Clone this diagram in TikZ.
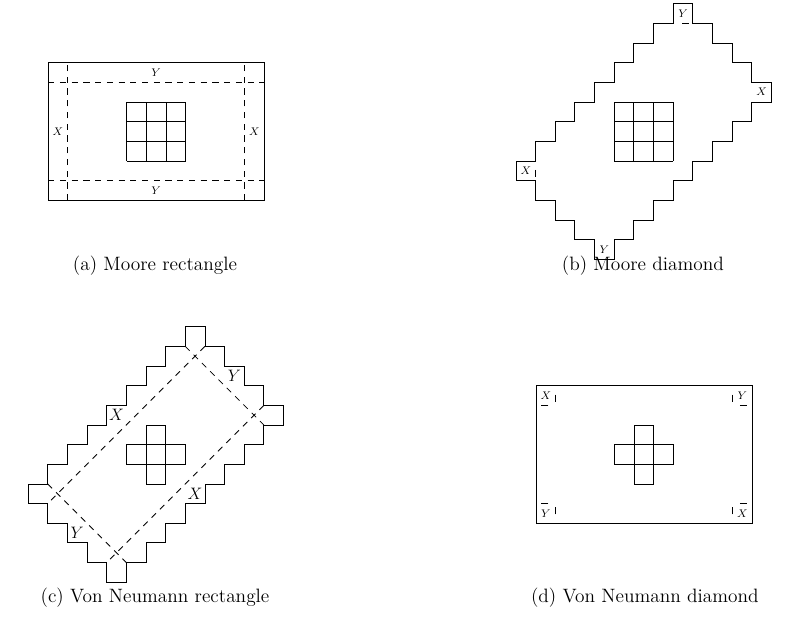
\documentclass[tikz,border=0pt]{standalone}
\tikzset{
  guide/.style={dash pattern=on 4.5pt off 4pt},
  openside/.style={dash pattern=on 5pt off 8pt, dash phase=6.5pt},
  smalllbl/.style={inner sep=0pt, font=\fontsize{8}{9}\selectfont},
  biglbl/.style={inner sep=0pt, font=\fontsize{12}{14}\selectfont},
  subcap/.style={inner sep=0pt, font=\fontsize{14}{16}\selectfont},
}
\begin{document}
\begin{tikzpicture}[x=0.5cm, y=0.5cm, line width=0.6pt]
  \useasboundingbox (0,0) rectangle (40.36,-31.76);
  % Moore rectangle
  \begin{scope}[shift={(6.448,-8.193)}]
    \draw (-4,-2) rectangle (7,5);
    \draw[step=0.5cm] (0,0) grid (3,3);
    \draw[guide] (-3,-2) -- (-3,5);
    \draw[guide] (6,-2) -- (6,5);
    \draw[guide] (-4,4) -- (7,4);
    \draw[guide] (-4,-1) -- (7,-1);
    \node[smalllbl] (aYtop) at (1.5,4.5) {$Y$};
    \node[smalllbl] (aYbot) at (1.5,-1.5) {$Y$};
    \node[smalllbl] (aXleft) at (-3.5,1.5) {$X$};
    \node[smalllbl] (aXright) at (6.5,1.5) {$X$};
  \end{scope}
  \node[subcap] (capA) at (7.89,-13.54) {(a) Moore rectangle};
  % Moore diamond
  \begin{scope}[shift={(31.26,-8.193)}]
    \draw (3,8) -- (4,8) -- (4,7) -- (5,7) -- (5,6) -- (6,6) -- (6,5) -- (7,5)
      -- (7,4) -- (8,4) -- (8,3) -- (7,3) -- (7,2) -- (6,2) -- (6,1) -- (5,1)
      -- (5,0) -- (4,0) -- (4,-1) -- (3,-1) -- (3,-2) -- (2,-2) -- (2,-3)
      -- (1,-3) -- (1,-4) -- (0,-4) -- (0,-5) -- (-1,-5) -- (-1,-4) -- (-2,-4)
      -- (-2,-3) -- (-3,-3) -- (-3,-2) -- (-4,-2) -- (-4,-1) -- (-5,-1)
      -- (-5,0) -- (-4,0) -- (-4,1) -- (-3,1) -- (-3,2) -- (-2,2) -- (-2,3)
      -- (-1,3) -- (-1,4) -- (0,4) -- (0,5) -- (1,5) -- (1,6) -- (2,6) -- (2,7)
      -- (3,7) -- cycle;
    \draw[step=0.5cm] (0,0) grid (3,3);
    \draw[openside] (3,7) -- (4,7);
    \draw[openside] (-4,0) -- (-4,-1);
    \node[smalllbl] (bYtop) at (3.5,7.5) {$Y$};
    \node[smalllbl] (bXright) at (7.5,3.5) {$X$};
    \node[smalllbl] (bXleft) at (-4.5,-0.5) {$X$};
    \node[smalllbl] (bYbot) at (-0.5,-4.5) {$Y$};
  \end{scope}
  \node[subcap] (capB) at (32.72,-13.54) {(b) Moore diamond};
  % Von Neumann rectangle
  \begin{scope}[shift={(7.430,-23.63)}]
    \draw (-5,-1) -- (-5,0) -- (-4,0) -- (-4,1) -- (-3,1) -- (-3,2) -- (-2,2)
      -- (-2,3) -- (-1,3) -- (-1,4) -- (0,4) -- (0,5) -- (1,5) -- (1,6) -- (2,6)
      -- (2,7) -- (3,7) -- (3,6) -- (4,6) -- (4,5) -- (5,5) -- (5,4) -- (6,4)
      -- (6,3) -- (7,3) -- (7,2) -- (6,2) -- (6,1) -- (5,1) -- (5,0) -- (4,0)
      -- (4,-1) -- (3,-1) -- (3,-2) -- (2,-2) -- (2,-3) -- (1,-3) -- (1,-4)
      -- (0,-4) -- (0,-5) -- (-1,-5) -- (-1,-6) -- (-2,-6) -- (-2,-5) -- (-3,-5)
      -- (-3,-4) -- (-4,-4) -- (-4,-3) -- (-5,-3) -- (-5,-2) -- (-6,-2)
      -- (-6,-1) -- cycle;
    \draw (-1,0) rectangle (2,1);
    \draw (0,-1) rectangle (1,2);
    \draw[guide] (2,6) -- (6,2);
    \draw[guide] (3,6) -- (-5,-2);
    \draw[guide] (6,3) -- (-2,-5);
    \draw[guide] (-5,-1) -- (-1,-5);
    \node[biglbl] (cXtop) at (-1.5,2.5) {$X$};
    \node[biglbl] (cYtop) at (4.5,4.5) {$Y$};
    \node[biglbl] (cXbot) at (2.5,-1.5) {$X$};
    \node[biglbl] (cYbot) at (-3.5,-3.5) {$Y$};
  \end{scope}
  \node[subcap] (capC) at (7.89,-30.43) {(c) Von Neumann rectangle};
  % Von Neumann diamond
  \begin{scope}[shift={(32.28,-23.63)}]
    \draw (-5,-3) rectangle (6,4);
    \draw (-1,0) rectangle (2,1);
    \draw (0,-1) rectangle (1,2);
    \draw[openside] (-4,4) -- (-4,3) -- (-5,3);
    \draw[openside] (5,4) -- (5,3) -- (6,3);
    \draw[openside] (-4,-3) -- (-4,-2) -- (-5,-2);
    \draw[openside] (5,-3) -- (5,-2) -- (6,-2);
    \node[smalllbl] (dXtl) at (-4.5,3.5) {$X$};
    \node[smalllbl] (dYtr) at (5.5,3.5) {$Y$};
    \node[smalllbl] (dYbl) at (-4.5,-2.5) {$Y$};
    \node[smalllbl] (dXbr) at (5.5,-2.5) {$X$};
  \end{scope}
  \node[subcap] (capD) at (32.82,-30.43) {(d) Von Neumann diamond};
\end{tikzpicture}
\end{document}
